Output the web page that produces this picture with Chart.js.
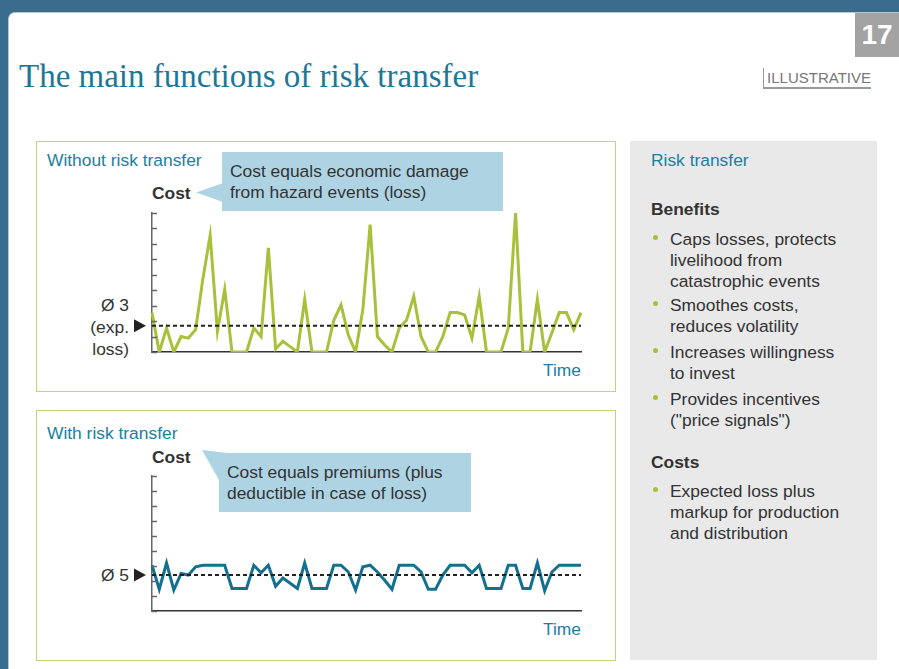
<!DOCTYPE html>
<html>
<head>
<meta charset="utf-8">
<script src="https://cdn.jsdelivr.net/npm/chart.js@4.4.1/dist/chart.umd.min.js"></script>
<style>
  html, body { margin: 0; padding: 0; }
  body { width: 899px; height: 669px; background: #3a6d8d; position: relative; overflow: hidden; font-family: "Liberation Sans", Arial, sans-serif; color: #333; }
  .card { position: absolute; left: 8px; top: 12px; width: 891px; height: 657px; background: #fff; border-top-left-radius: 7px; border-top: 1px solid #b8c4cc; border-left: 1px solid #b8c4cc; }
  .abs { position: absolute; white-space: nowrap; }
  .pagenum { left: 855px; top: 13px; width: 44px; height: 44px; background: #a3a3a3; color: #fff; font: bold 28px "Liberation Sans Narrow", "Liberation Sans", sans-serif; text-align: center; line-height: 44px; }
  .title { left: 19px; top: 59px; font: 33px "Liberation Serif", "DejaVu Serif", serif; color: #1d7898; line-height: 34px; }
  .illus { left: 763px; top: 68px; width: 107px; height: 19px; border-left: 1px solid #999; border-bottom: 2px solid #999; font: 15px "Liberation Sans Narrow", "Liberation Sans", sans-serif; color: #777; line-height: 20px; text-align: right; }
  .panel { position: absolute; left: 36px; width: 578px; height: 249px; border: 1px solid #c3d57a; }
  .side { position: absolute; left: 630px; top: 141px; width: 247px; height: 519px; background: #e9e9e9; }
  .teal { color: #1c7ea1; }
  .t16 { font-size: 17.4px; line-height: 21px; }
  .bold { font-weight: bold; }
  .callout { position: absolute; background: #aed3e3; padding: 9px 8px 0 8px; box-sizing: border-box; font-size: 17.4px; line-height: 21px; color: #333; }
  .mean { text-align: right; font-size: 17.4px; line-height: 22px; }
  .bul { position: absolute; left: 670px; font-size: 17.4px; line-height: 21px; }
  .bul::before { content: ""; position: absolute; left: -17px; top: 6px; width: 5px; height: 5px; border-radius: 50%; background: #a8c03a; }
  canvas { position: absolute; }
  svg { position: absolute; left: 0; top: 0; }
</style>
</head>
<body>
<div class="card"></div>
<div class="abs pagenum">17</div>
<div class="abs title">The main functions of risk transfer</div>
<div class="abs illus">ILLUSTRATIVE</div>

<div class="panel" style="top:141px;"></div>
<div class="panel" style="top:410px;"></div>
<div class="side"></div>

<div class="abs teal t16" style="left:47px; top:150px;">Without risk transfer</div>
<div class="abs teal t16" style="left:47px; top:423px;">With risk transfer</div>

<div class="abs bold t16" style="left:152px; top:183px;">Cost</div>
<div class="abs bold t16" style="left:152px; top:447px;">Cost</div>

<svg width="899" height="669">
  <polygon points="196,192.5 223,183 223,202" fill="#aed3e3"/>
  <polygon points="202,450 236,454 219,480" fill="#aed3e3"/>
</svg>
<div class="callout" style="left:222px; top:152px; width:281px; height:59px;">Cost equals economic damage<br>from hazard events (loss)</div>
<div class="callout" style="left:219px; top:453px; width:252px; height:59px;">Cost equals premiums (plus<br>deductible in case of loss)</div>

<div class="abs mean" style="right:770px; top:294px;">Ø 3<br>(exp.<br>loss)</div>
<div class="abs mean" style="right:770px; top:564px;">Ø 5</div>

<div class="abs teal t16" style="right:318px; top:360px;">Time</div>
<div class="abs teal t16" style="right:318px; top:619px;">Time</div>

<canvas id="chartWithout" width="500" height="160" style="left:100px; top:200px;"></canvas>
<canvas id="chartWith" width="500" height="155" style="left:100px; top:465px;"></canvas>

<div class="abs teal t16" style="left:651px; top:150px;">Risk transfer</div>
<div class="abs bold t16" style="left:651px; top:199px;">Benefits</div>
<div class="bul" style="top:229px;">Caps losses, protects<br>livelihood from<br>catastrophic events</div>
<div class="bul" style="top:295px;">Smoothes costs,<br>reduces volatility</div>
<div class="bul" style="top:342px;">Increases willingness<br>to invest</div>
<div class="bul" style="top:389px;">Provides incentives<br>("price signals")</div>
<div class="abs bold t16" style="left:651px; top:452px;">Costs</div>
<div class="bul" style="top:481px;">Expected loss plus<br>markup for production<br>and distribution</div>

<script>
// time periods (x categories)
const periods = [1, 2, 3, 4, 5, 6, 7, 8, 9, 10, 11, 12, 13, 14, 15, 16, 17, 18, 19, 20,
  21, 22, 23, 24, 25, 26, 27, 28, 29, 30, 31, 32, 33, 34, 35, 36, 37, 38, 39, 40,
  41, 42, 43, 44, 45, 46, 47, 48, 49, 50, 51, 52, 53, 54, 55, 56, 57, 58, 59, 60];

// cost without risk transfer = loss from hazard events
const costWithout = [5.1, 0, 3.1, 0, 2.0, 1.8, 2.9, 9.5, 15.1, 2.7,
  8.1, 0, 0, 0, 3.1, 2.0, 13.5, 0.4, 1.4, 0.7,
  0, 6.8, 0, 0, 0, 4.1, 6.1, 2.2, 0, 5.5,
  16.5, 2.0, 0.9, 0, 3.1, 4.1, 7.2, 2.0, 0, 0,
  2.0, 5.1, 5.1, 4.8, 1.8, 7.2, 0, 0, 0, 3.1,
  18.0, 0, 0, 6.8, 0, 2.5, 5.1, 5.1, 2.9, 5.1];

// cost with risk transfer = premiums (+ deductible)
const costWith = [6.1, 2.9, 6.4, 2.8, 5.0, 4.8, 5.9, 6.1, 6.1, 6.1,
  6.1, 3.0, 3.0, 3.0, 6.1, 5.1, 6.1, 3.3, 4.4, 3.7,
  3.0, 6.4, 3.0, 3.0, 3.0, 6.1, 6.1, 5.2, 2.8, 5.9,
  6.1, 5.2, 4.1, 2.9, 6.1, 6.1, 6.1, 5.2, 2.9, 2.9,
  4.8, 6.1, 6.1, 6.1, 5.1, 6.1, 3.0, 3.0, 3.0, 6.1,
  6.1, 3.0, 3.0, 6.4, 2.7, 5.2, 6.1, 6.1, 6.1, 6.1];

// average lines (as placed in the picture)
const meanWithout = 3.4;
const meanWith = 4.8;

// y scale: 0..18, a tick every 2
const yMin = 0, yMax = 18, yStep = 2;

// ticks on the inner side of the y axis + dashed average line + arrow marker
const meanPlugin = {
  id: "meanPlugin",
  afterDatasetsDraw(chart, args, opts) {
    const { ctx, chartArea: a, scales: { y } } = chart;
    ctx.save();
    ctx.strokeStyle = "#666";
    ctx.lineWidth = 1.5;
    y.ticks.forEach(t => {
      const py = Math.round(y.getPixelForValue(t.value)) + 0.5;
      ctx.beginPath(); ctx.moveTo(a.left, py); ctx.lineTo(a.left + 5, py); ctx.stroke();
    });
    const my = y.getPixelForValue(opts.mean);
    ctx.strokeStyle = "#222";
    ctx.lineWidth = 2;
    ctx.setLineDash([4, 3]);
    ctx.beginPath(); ctx.moveTo(a.left, my); ctx.lineTo(a.right, my); ctx.stroke();
    ctx.setLineDash([]);
    ctx.fillStyle = "#222";
    ctx.beginPath();
    ctx.moveTo(a.left - 6, my);
    ctx.lineTo(a.left - 18, my - 6.5);
    ctx.lineTo(a.left - 18, my + 6.5);
    ctx.closePath(); ctx.fill();
    ctx.restore();
  }
};

function makeChart(id, data, color, mean, padding) {
  return new Chart(document.getElementById(id), {
    type: "line",
    data: {
      labels: periods,
      datasets: [{ data, borderColor: color, borderWidth: 3, pointRadius: 0, tension: 0, fill: false }]
    },
    options: {
      responsive: false,
      animation: false,
      layout: { padding },
      plugins: { legend: { display: false }, tooltip: { enabled: false }, meanPlugin: { mean } },
      scales: {
        x: {
          offset: false,
          grid: { display: false, drawTicks: false },
          ticks: { display: false },
          border: { display: true, color: "#333", width: 1.5 }
        },
        y: {
          min: yMin, max: yMax,
          ticks: { display: false, stepSize: yStep },
          grid: { display: false, drawTicks: false },
          border: { display: true, color: "#666", width: 1.5 }
        }
      }
    },
    plugins: [meanPlugin]
  });
}

makeChart("chartWithout", costWithout, "#a8c03a", meanWithout, { left: 52, right: 19, top: 13, bottom: 8 });
makeChart("chartWith", costWith, "#13708f", meanWith, { left: 52, right: 19, top: 11, bottom: 9 });
</script>
</body>
</html>
